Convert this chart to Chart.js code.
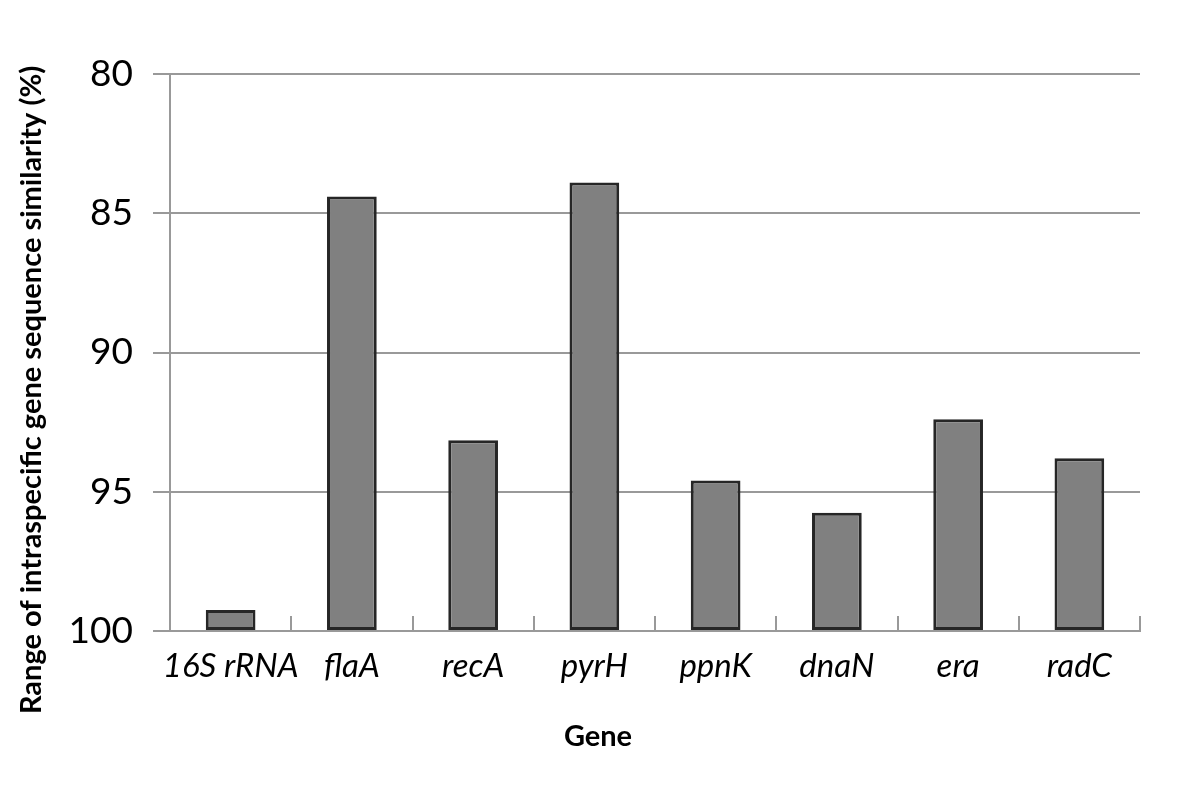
<!DOCTYPE html>
<html>
<head>
<meta charset="utf-8">
<script src="https://cdn.jsdelivr.net/npm/chart.js@4.4.0/dist/chart.umd.min.js"></script>
<style>
  html, body { margin: 0; background: #fff; }
  #wrap { width: 1200px; height: 790px; }
</style>
</head>
<body>
<div id="wrap"><canvas id="geneChart"></canvas></div>
<script>
  // values (y axis is reversed: 80 at top, 100 at bottom)
  const genes = ['16S rRNA', 'flaA', 'recA', 'pyrH', 'ppnK', 'dnaN', 'era', 'radC'];
  const similarity = [99.25, 84.4, 93.15, 83.9, 94.6, 95.75, 92.4, 93.8];
  const yTicks = [80, 85, 90, 95, 100];
  const xTitle = 'Gene';
  const yTitle = 'Range of intraspecific gene sequence similarity (%)';

  const gridGray = '#999999';

  // small upward tick marks between categories, like the original
  const categoryTicks = {
    id: 'categoryTicks',
    beforeDatasetsDraw(chart) {
      const xs = chart.scales.x;
      const ctx = chart.ctx;
      const step = (xs.right - xs.left) / genes.length;
      ctx.save();
      ctx.strokeStyle = gridGray;
      ctx.lineWidth = 2;
      for (let i = 1; i <= genes.length; i++) {
        const x = Math.round(xs.left + i * step);
        ctx.beginPath();
        ctx.moveTo(x, xs.top);
        ctx.lineTo(x, xs.top - 15);
        ctx.stroke();
      }
      ctx.restore();
    }
  };

  // axis titles are centred on the whole figure, not on the plot area
  const axisTitles = {
    id: 'axisTitles',
    afterDraw(chart) {
      const ctx = chart.ctx;
      ctx.save();
      ctx.fillStyle = '#000';
      ctx.font = 'bold 29px Lato';
      ctx.textAlign = 'center';
      ctx.textBaseline = 'middle';
      ctx.fillText(xTitle, 598, 737);
      ctx.translate(32, 390);
      ctx.rotate(-Math.PI / 2);
      ctx.fillText(yTitle, 0, 0);
      ctx.restore();
    }
  };

  function drawChart() {
    const ctx = document.getElementById('geneChart').getContext('2d');
    new Chart(ctx, {
      type: 'bar',
      data: {
        labels: genes,
        datasets: [{
          data: similarity,
          base: 100,
          backgroundColor: '#808080',
          borderColor: '#262626',
          borderWidth: 3,
          borderSkipped: false,
          categoryPercentage: 1,
          barPercentage: 0.41
        }]
      },
      options: {
        responsive: true,
        maintainAspectRatio: false,
        animation: false,
        layout: { padding: { top: 74, right: 60, left: 0, bottom: 0 } },
        plugins: { legend: { display: false }, tooltip: { enabled: false } },
        scales: {
          x: {
            grid: { display: false },
            border: { display: true, color: gridGray, width: 2 },
            ticks: {
              color: '#000',
              padding: 8,
              autoSkip: false,
              maxRotation: 0,
              font: { family: 'Lato', style: 'italic', size: 33 }
            },
            afterFit(scale) { scale.height = 159; }
          },
          y: {
            reverse: true,
            min: 80,
            max: 100,
            afterBuildTicks(scale) { scale.ticks = yTicks.map(v => ({ value: v })); },
            grid: { color: gridGray, lineWidth: 2, tickLength: 17 },
            border: { display: true, color: gridGray, width: 2 },
            ticks: {
              color: '#000',
              padding: 20,
              font: { family: 'Lato', size: 37 }
            },
            afterFit(scale) { scale.width = 170; }
          }
        }
      },
      plugins: [categoryTicks, axisTitles]
    });
  }

  window.onload = drawChart;
</script>
</body>
</html>
